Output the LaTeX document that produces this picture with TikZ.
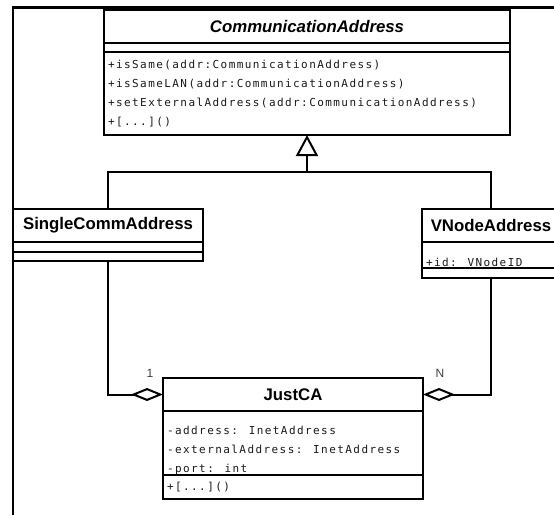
\documentclass[tikz,border=0pt]{standalone}
\usepackage{fontspec}
\setsansfont{Liberation Sans}
\newfontfamily\memberfont[LetterSpace=13]{DejaVu Sans Mono}
\usetikzlibrary{positioning, calc, arrows.meta}

\begin{document}
\begin{tikzpicture}[x=1pt, y=-1pt, line width=2pt,
  box/.style={draw, inner sep=0pt, outer sep=0pt},
  cname/.style={box, font=\sffamily\bfseries\fontsize{16.8}{20}\selectfont},
  member/.style={anchor=base west, inner sep=0pt, align=left, text=black!90,
    font=\memberfont\fontsize{11}{19.2}\selectfont},
  mult/.style={inner sep=0pt, text=black!75, font=\sffamily\fontsize{12}{14}\selectfont},
  gen/.style={arrows=-{Triangle[open, length=21pt, width=22pt]}},
  agg/.style={arrows={Diamond[open, length=32pt, width=13pt]}-},
]
\useasboundingbox (0,0) rectangle (554,515);
% frame
\draw[line width=2.5pt] (13,515) |- (554,7.5);

% classes (base of a member list = its last line)
\node[cname, anchor=north west, minimum width=406pt, minimum height=33pt] (caname) at (104,10) {\itshape CommunicationAddress};
\node[box, below=0pt of caname, minimum width=406pt, minimum height=9pt] (caattr) {};
\node[box, below=0pt of caattr, minimum width=406pt, minimum height=83pt] (caops) {};
\node[member] (camethods) at ([xshift=3pt, yshift=-73.6pt]caops.north west)
  {+isSame(addr:CommunicationAddress)\\+isSameLAN(addr:CommunicationAddress)\\+setExternalAddress(addr:CommunicationAddress)\\+[...]()};

\node[cname, anchor=north west, minimum width=190pt, minimum height=33pt] (scaname) at (13,209) {SingleCommAddress};
\node[box, below=0pt of scaname, minimum width=190pt, minimum height=10pt] (scaattr) {};
\node[box, below=0pt of scaattr, minimum width=190pt, minimum height=9pt] (scaops) {};

\node[cname, anchor=north west, minimum width=138pt, minimum height=33pt] (vnaname) at (422,209) {VNodeAddress};
\node[box, below=0pt of vnaname, minimum width=138pt, minimum height=26pt] (vnaattr) {};
\node[box, below=0pt of vnaattr, minimum width=138pt, minimum height=10pt] (vnaops) {};
\node[member] (vnaid) at ([xshift=3pt, yshift=-24.5pt]vnaattr.north west) {+id: VNodeID};

\node[cname, anchor=north west, minimum width=260pt, minimum height=33pt] (jcaname) at (163,378) {JustCA};
\node[box, below=0pt of jcaname, minimum width=260pt, minimum height=64pt] (jcaattr) {};
\node[box, below=0pt of jcaattr, minimum width=260pt, minimum height=24pt] (jcaops) {};
\node[member] (jcafields) at ([xshift=3pt, yshift=-61.4pt]jcaattr.north west)
  {-address: InetAddress\\-externalAddress: InetAddress\\-port: int};
\node[member] (jcamethods) at ([xshift=3pt, yshift=-15pt]jcaops.north west) {+[...]()};

% relations
\coordinate (join) at ($(caops.south)+(0,37)$);
\draw (scaname.north) |- (join) -| (vnaname.north);
\draw[gen] (join) -- (caops.south);
\draw[agg] (jcaname.west) -| (scaops.south);
\draw[agg] (jcaname.east) -| (vnaops.south);
\node[mult] (one) at ([xshift=-13pt, yshift=5pt]jcaname.north west) {1};
\node[mult] (many) at ([xshift=17pt, yshift=5pt]jcaname.north east) {N};
\end{tikzpicture}
\end{document}
